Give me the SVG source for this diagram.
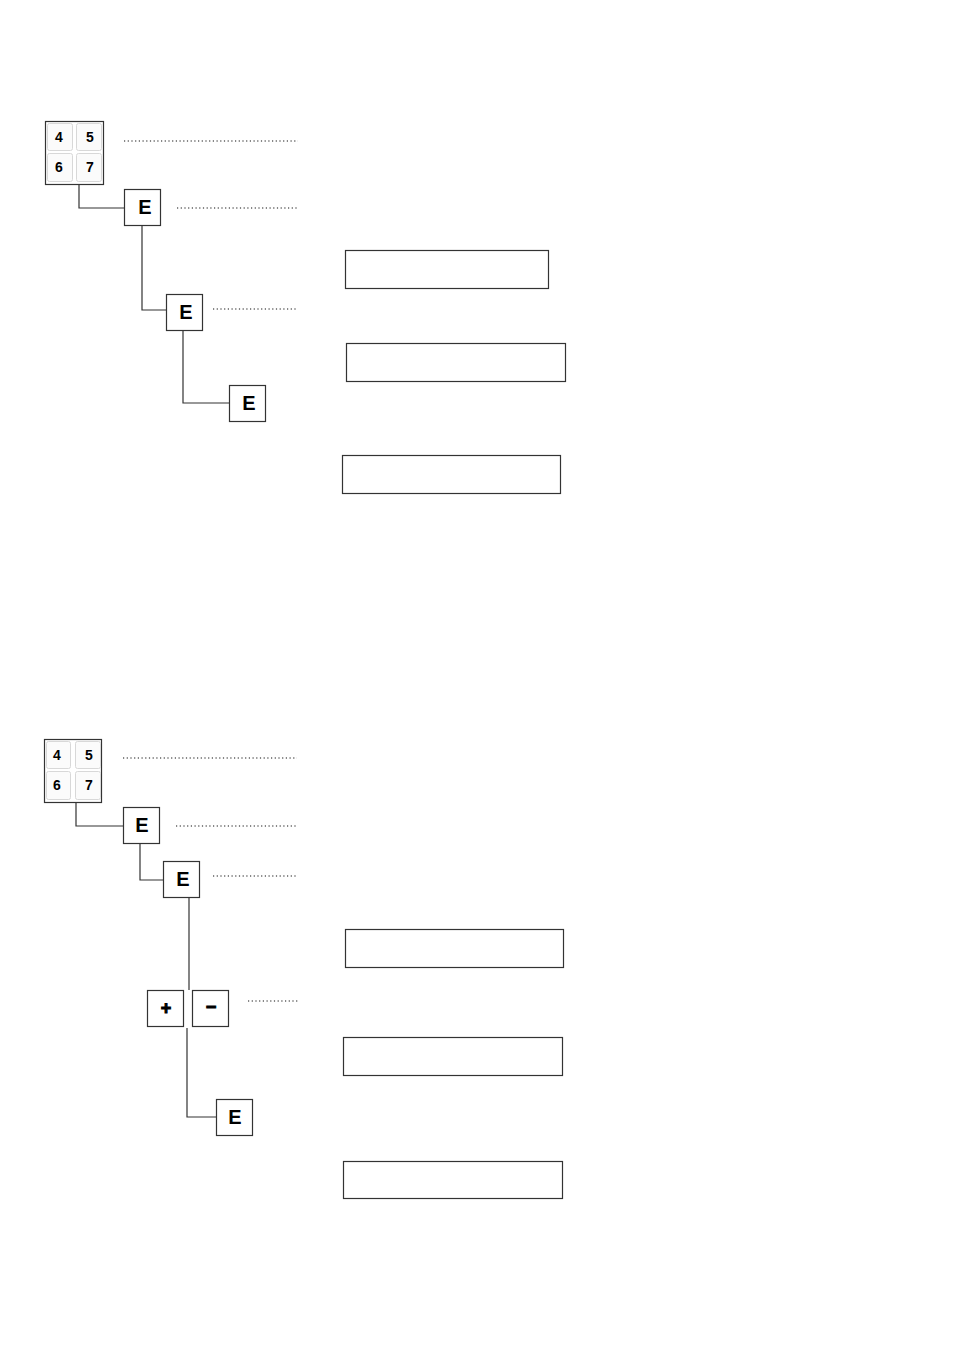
<svg xmlns="http://www.w3.org/2000/svg" width="954" height="1350" viewBox="0 0 954 1350">
<style>
.box{fill:#fff;stroke:#333;stroke-width:1.2}
.key{fill:#fbfbfb;stroke:#d8d8d8;stroke-width:1}
.btn{fill:#fff;stroke:#333;stroke-width:1.2}
.lbl{font-family:"Liberation Sans",Arial,sans-serif;font-weight:bold;font-size:20px;fill:#000;text-anchor:middle}
.pm{font-family:"Liberation Sans",Arial,sans-serif;font-weight:bold;font-size:18px;fill:#000;stroke:#000;stroke-width:1;text-anchor:middle}
.num{font-family:"Liberation Sans",Arial,sans-serif;font-weight:bold;font-size:14px;fill:#000;text-anchor:middle}
.conn{fill:none;stroke:#333;stroke-width:1.2}
.dot{fill:none;stroke:#111;stroke-width:1.2;stroke-dasharray:1.2 2.5}
</style>
<rect width="954" height="1350" fill="#fff"/>
<g id="connectors">
<path class="conn" d="M79 184V208H124"/>
<path class="conn" d="M142 225V310H166"/>
<path class="conn" d="M183 330V403H229"/>
<path class="conn" d="M76 802V826H123"/>
<path class="conn" d="M140 843V880H163"/>
<path class="conn" d="M189 897V990"/>
<path class="conn" d="M187 1028V1117H216"/>
<path class="dot" d="M124 141H298"/>
<path class="dot" d="M177 208H298"/>
<path class="dot" d="M213 309H298"/>
<path class="dot" d="M123 758H297"/>
<path class="dot" d="M176 826H298"/>
<path class="dot" d="M213 876H298"/>
<path class="dot" d="M248 1001H298"/>
</g>
<g id="keypad1">
<rect class="box" x="45.5" y="121.5" width="58" height="63"/>
<rect class="key" x="47.5" y="123.5" width="25" height="27" rx="2"/>
<rect class="key" x="76.5" y="123.5" width="25" height="27" rx="2"/>
<rect class="key" x="47.5" y="153.5" width="25" height="28" rx="2"/>
<rect class="key" x="76.5" y="153.5" width="25" height="28" rx="2"/>
<text class="num" x="59" y="142">4</text>
<text class="num" x="90" y="142">5</text>
<text class="num" x="59" y="172">6</text>
<text class="num" x="90" y="172">7</text>
</g>
<g id="e1"><rect class="btn" x="124.5" y="189.5" width="36" height="36"/><text class="lbl" x="145" y="214">E</text></g>
<g id="e2"><rect class="btn" x="166.5" y="294.5" width="36" height="36"/><text class="lbl" x="186" y="319">E</text></g>
<g id="e3"><rect class="btn" x="229.5" y="385.5" width="36" height="36"/><text class="lbl" x="249" y="410">E</text></g>
<g id="disp1"><rect class="box" x="345.5" y="250.5" width="203" height="38"/></g>
<g id="disp2"><rect class="box" x="346.5" y="343.5" width="219" height="38"/></g>
<g id="disp3"><rect class="box" x="342.5" y="455.5" width="218" height="38"/></g>
<g id="keypad2">
<rect class="box" x="44.5" y="739.5" width="57" height="63"/>
<rect class="key" x="46.5" y="741.5" width="24" height="27" rx="2"/>
<rect class="key" x="75.5" y="741.5" width="25" height="27" rx="2"/>
<rect class="key" x="46.5" y="771.5" width="24" height="28" rx="2"/>
<rect class="key" x="75.5" y="771.5" width="25" height="28" rx="2"/>
<text class="num" x="57" y="760">4</text>
<text class="num" x="89" y="760">5</text>
<text class="num" x="57" y="790">6</text>
<text class="num" x="89" y="790">7</text>
</g>
<g id="e4"><rect class="btn" x="123.5" y="807.5" width="36" height="36"/><text class="lbl" x="142" y="832">E</text></g>
<g id="e5"><rect class="btn" x="163.5" y="861.5" width="36" height="36"/><text class="lbl" x="183" y="886">E</text></g>
<g id="plus"><rect class="btn" x="147.5" y="990.5" width="36" height="36"/><text class="pm" x="166" y="1014">+</text></g>
<g id="minus"><rect class="btn" x="192.5" y="990.5" width="36" height="36"/><text class="pm" x="211" y="1013">−</text></g>
<g id="e6"><rect class="btn" x="216.5" y="1099.5" width="36" height="36"/><text class="lbl" x="235" y="1124">E</text></g>
<g id="disp4"><rect class="box" x="345.5" y="929.5" width="218" height="38"/></g>
<g id="disp5"><rect class="box" x="343.5" y="1037.5" width="219" height="38"/></g>
<g id="disp6"><rect class="box" x="343.5" y="1161.5" width="219" height="37"/></g>
</svg>
